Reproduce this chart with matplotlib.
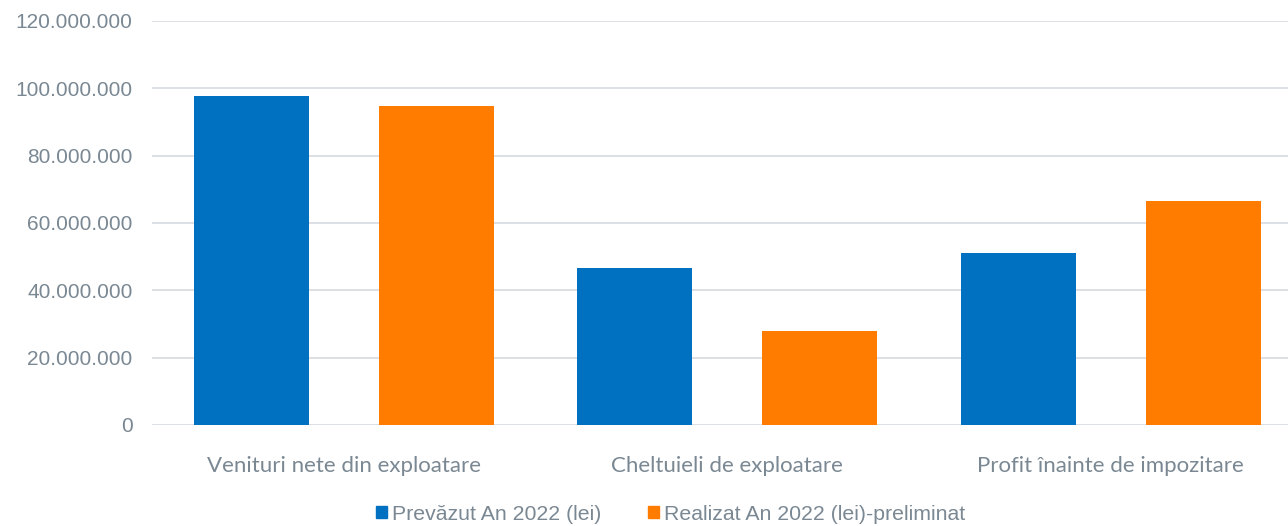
import matplotlib
matplotlib.use("Agg")
import matplotlib.pyplot as plt
from matplotlib.ticker import FuncFormatter
from matplotlib.patches import Patch
import numpy as np

# ── Data ─────────────────────────────────────────────
categories = ["Venituri nete din exploatare", "Cheltuieli de exploatare",
              "Profit înainte de impozitare"]
prevazut = [97_700_000, 46_600_000, 51_100_000]
realizat = [94_750_000, 27_900_000, 66_500_000]
series_labels = ["Prevăzut An 2022 (lei)", "Realizat An 2022 (lei)-preliminat"]

BLUE = "#0070C0"
ORANGE = "#FF7C00"
TEXT = "#7a8893"
GRID = "#d9dde2"

fig = plt.figure(figsize=(12.88, 5.26), dpi=100)
ax = fig.add_axes([152 / 1288, 1 - 425 / 526, 1 - 152 / 1288, (425 - 21) / 526])

x = np.arange(len(categories))
off = 0.241
w = 0.30
ax.bar(x - off, prevazut, w, color=BLUE, zorder=3)
ax.bar(x + off, realizat, w, color=ORANGE, zorder=3)

ax.set_ylim(0, 120_000_000)
ax.set_xlim(-0.5, -0.5 + 1136 / 383.5)
ax.set_yticks(np.arange(0, 120_000_001, 20_000_000))
ax.yaxis.set_major_formatter(FuncFormatter(lambda v, p: f"{int(v):,}".replace(",", ".")))
ax.grid(axis="y", color=GRID, linewidth=1.3, zorder=0)
for s in ax.spines.values():
    s.set_visible(False)
ax.tick_params(axis="y", length=0, pad=14, labelsize=15, labelcolor=TEXT)
for t in ax.get_yticklabels():
    t.set_family("Liberation Sans")

ax.set_xticks(x)
ax.set_xticklabels(categories, family="Lato", fontsize=16, color=TEXT)
ax.tick_params(axis="x", length=0, pad=22)

handles = [Patch(color=BLUE, label=series_labels[0]),
           Patch(color=ORANGE, label=series_labels[1])]
fig.legend(handles=handles, loc="center", bbox_to_anchor=(0.521, 1 - 514 / 526),
           ncol=2, frameon=False, handlelength=0.5, handleheight=0.5,
           handletextpad=0.25, columnspacing=2.2,
           prop={"family": "Liberation Sans", "size": 15.3}, labelcolor=TEXT)

fig.savefig("out.png", dpi=100)
